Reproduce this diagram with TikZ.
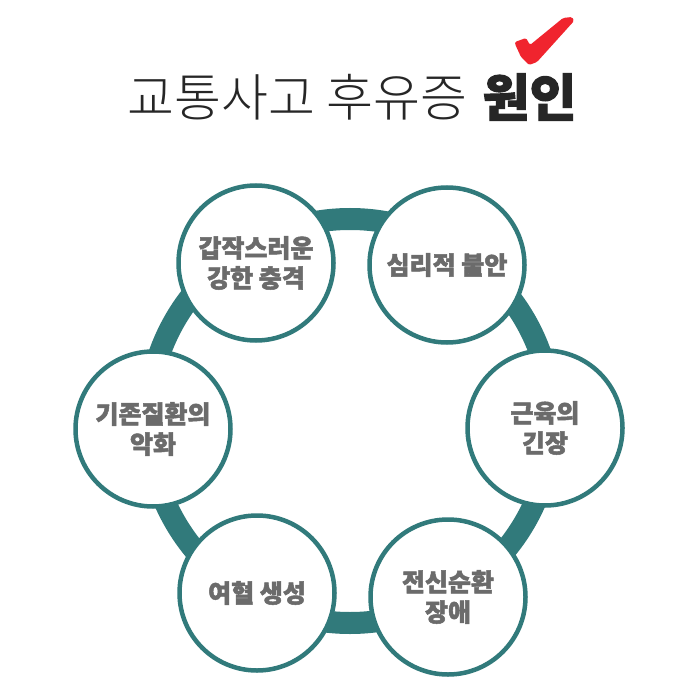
\documentclass[tikz,border=0pt]{standalone}
\usepackage{fontspec}
\newfontfamily\krl{Noto Sans CJK KR Light}
\newfontfamily\krk{Noto Sans CJK KR}[BoldFeatures={FakeBold=2}]
\definecolor{ringteal}{HTML}{317A7B}
\definecolor{labelgray}{HTML}{6B6B6B}
\definecolor{titleink}{HTML}{262626}
\definecolor{checkred}{HTML}{F0242E}
\tikzset{
  bub/.style={circle, draw=ringteal, line width=4.5pt, fill=white,
    minimum size=155pt, inner sep=0pt, align=center, text=labelgray,
    font=\krk\bfseries\fontsize{25}{30}\selectfont},
  ringline/.style={draw=ringteal, line width=22pt}
}
\begin{document}
\begin{tikzpicture}[x=1pt,y=-1pt]
\useasboundingbox (0,0) rectangle (700,700);
\fill[white] (0,0) rectangle (700,700);
% title
\node[text=titleink, inner sep=0pt] (title) at (352,97)
  {\fontsize{51}{54}\selectfont{\krl 교통사고 후유증} {\krk\bfseries 원인}};
% check mark
\fill[checkred, rounded corners=1.5pt] (515,42) -- (526,38) -- (530,45) -- (563,18)
  -- (572,17) -- (574,21) -- (537,62) -- (529,65) -- (521,57) -- (515,44) -- cycle;
% ring
\coordinate (rc) at (350,421);
\draw[ringline] (rc) circle (202pt);
% bubbles
\node[bub] (n1) at (256,263) {갑작스러운\\강한 충격};
\node[bub] (n2) at (447,265) {심리적 불안};
\node[bub] (n3) at (545,428) {근육의\\긴장};
\node[bub] (n4) at (448,597) {전신순환\\장애};
\node[bub] (n5) at (257,593) {여혈 생성};
\node[bub] (n6) at (153,429) {기존질환의\\악화};
\end{tikzpicture}
\end{document}
